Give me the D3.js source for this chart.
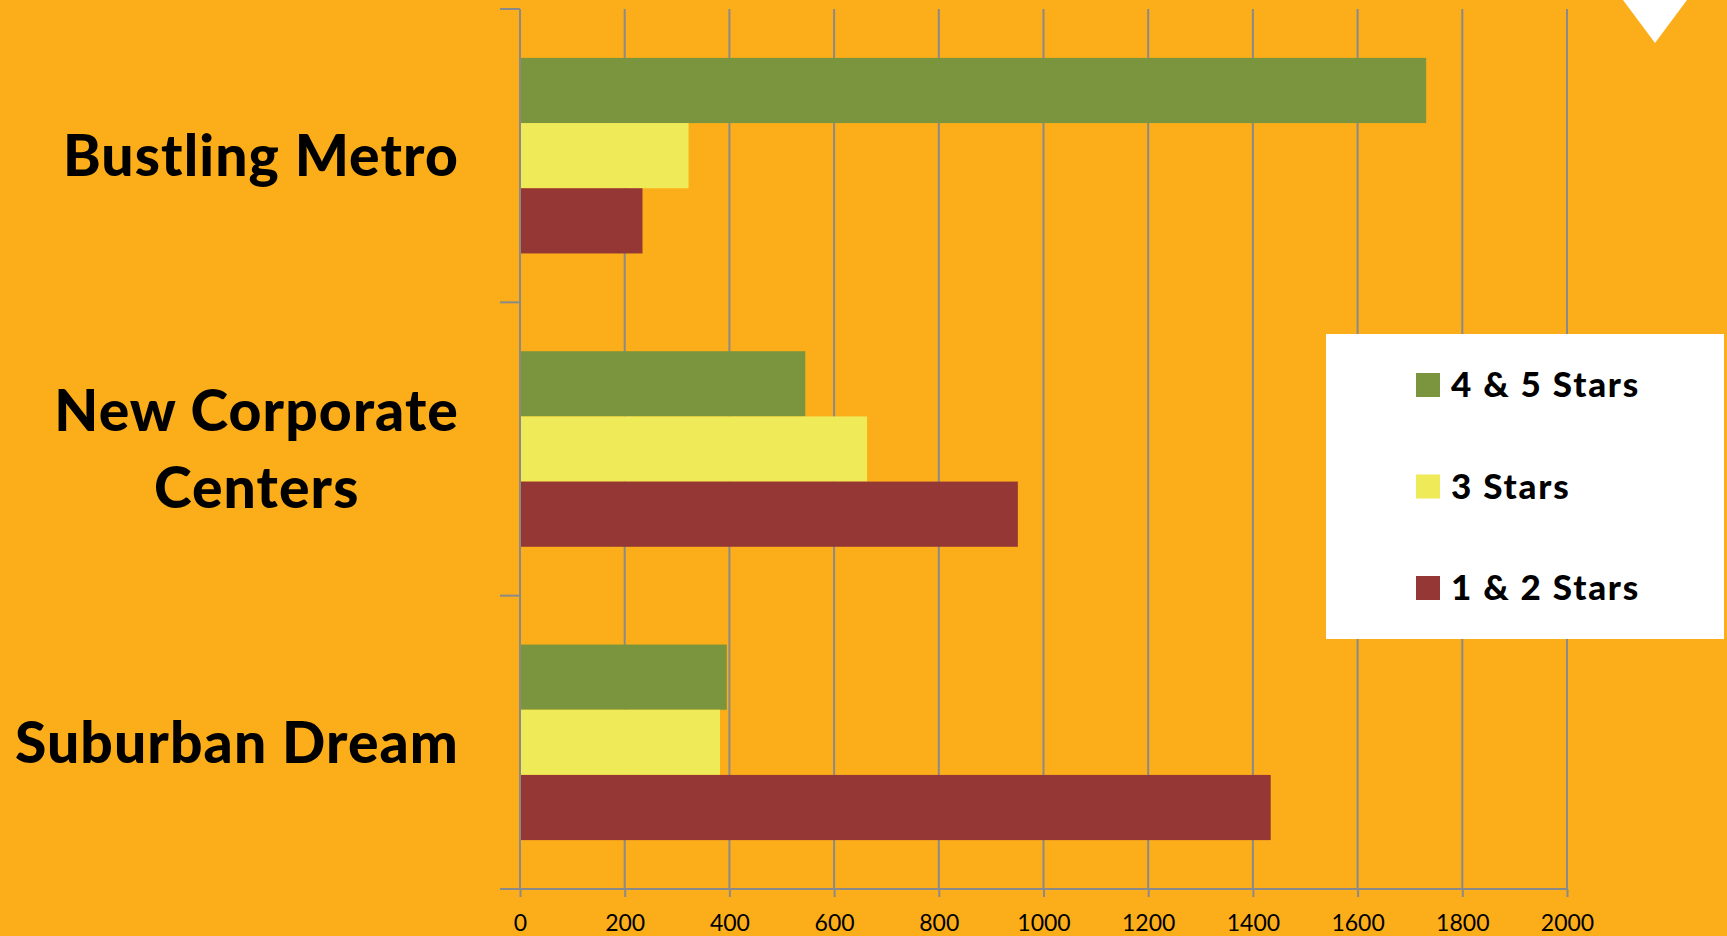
<!DOCTYPE html>
<html>
<head>
<meta charset="utf-8">
<script src="https://cdn.jsdelivr.net/npm/d3@7"></script>
<style>
  html, body { margin: 0; padding: 0; background: #FBAE19; overflow: hidden; }
  svg { display: block; }
</style>
</head>
<body>
<svg id="chart" width="1727" height="936"></svg>
<script>
// ---- data ----
const categories = ["Bustling Metro", "New Corporate Centers", "Suburban Dream"];
const categoryLines = [["Bustling Metro"], ["New Corporate", "Centers"], ["Suburban Dream"]];
const seriesNames = ["4 & 5 Stars", "3 Stars", "1 & 2 Stars"];
const seriesValues = [
  [1731, 545, 395],   // 4 & 5 Stars
  [322, 663, 382],    // 3 Stars
  [234, 951, 1434]    // 1 & 2 Stars
];
const tickValues = [0, 200, 400, 600, 800, 1000, 1200, 1400, 1600, 1800, 2000];
const seriesColors = ["#7A953D", "#EFEA57", "#953735"];

// ---- layout ----
const W = 1727, H = 936;
const plot = { left: 520, right: 1567, top: 9, bottom: 889 };
const gridColor = "#8A8A8A";

const svg = d3.select("#chart");
svg.append("rect").attr("width", W).attr("height", H).attr("fill", "#FBAE19");

const x = d3.scaleLinear().domain([0, 2000]).range([plot.left, plot.right]);
const y = d3.scaleBand().domain(categories).range([plot.top, plot.bottom]).padding(0);
const ySub = d3.scaleBand().domain(seriesNames).range([0, y.bandwidth()]).paddingInner(0).paddingOuter(0.75);

// gridlines
svg.append("g").selectAll("line")
  .data(tickValues.filter(v => v > 0))
  .join("line")
  .attr("x1", d => x(d)).attr("x2", d => x(d))
  .attr("y1", plot.top).attr("y2", plot.bottom)
  .attr("stroke", gridColor).attr("stroke-width", 2);

// bars
const rows = [];
categories.forEach((c, ci) => seriesNames.forEach((s, si) => rows.push({ c, s, si, v: seriesValues[si][ci] })));
svg.append("g").selectAll("rect")
  .data(rows)
  .join("rect")
  .attr("x", x(0) + 1)
  .attr("y", d => y(d.c) + ySub(d.s))
  .attr("width", d => x(d.v) - x(0) - 1)
  .attr("height", ySub.bandwidth())
  .attr("fill", d => seriesColors[d.si]);

// bottom axis
const xAxis = d3.axisBottom(x).tickValues(tickValues).tickSize(8).tickSizeOuter(0).tickFormat(d3.format("d"));
const gx = svg.append("g").attr("transform", `translate(0,${plot.bottom})`).call(xAxis);
gx.select(".domain").attr("stroke", gridColor).attr("stroke-width", 2)
  .attr("d", `M${plot.left - 20},0H${plot.right}`);
gx.selectAll(".tick line").attr("stroke", gridColor).attr("stroke-width", 2);
gx.selectAll(".tick text").attr("y", 42).attr("dy", null)
  .attr("fill", "#000").style("font-family", "Lato, 'Open Sans', sans-serif").style("font-size", "23px");

// left axis
const gy = svg.append("g");
gy.append("line")
  .attr("x1", plot.left).attr("x2", plot.left)
  .attr("y1", plot.top).attr("y2", plot.bottom)
  .attr("stroke", gridColor).attr("stroke-width", 2);
const boundaries = categories.map(c => y(c)).concat([y.range()[1]]);
gy.selectAll("line.b").data(boundaries).join("line").attr("class", "b")
  .attr("x1", plot.left - 20).attr("x2", plot.left)
  .attr("y1", d => d).attr("y2", d => d)
  .attr("stroke", gridColor).attr("stroke-width", 2);

// category labels
const labelFont = 57, labelLine = 77, capH = 0.7165 * labelFont, labelRight = 459;
categories.forEach((c, ci) => {
  const lines = categoryLines[ci];
  const g = svg.append("g");
  const texts = lines.map((ln, li) => g.append("text").text(ln)
    .style("font-family", "Lato, sans-serif").style("font-weight", "900")
    .style("letter-spacing", "1.1px")
    .style("font-size", labelFont + "px").attr("fill", "#000"));
  const widths = texts.map(t => t.node().getComputedTextLength());
  const maxW = d3.max(widths);
  const cy = y(c) + y.bandwidth() / 2;
  const firstBase = cy + capH / 2 - (lines.length - 1) * labelLine / 2;
  texts.forEach((t, li) => t.attr("text-anchor", "middle")
    .attr("x", labelRight - maxW / 2)
    .attr("y", firstBase + li * labelLine));
});

// legend
const lg = svg.append("g");
lg.append("rect").attr("x", 1326).attr("y", 334).attr("width", 398).attr("height", 305).attr("fill", "#fff");
const legendY = d3.scalePoint().domain(seriesNames).range([385, 588]);
const li = lg.selectAll("g.item").data(seriesNames).join("g").attr("class", "item")
  .attr("transform", d => `translate(1416,${legendY(d)})`);
li.append("rect").attr("x", 0).attr("y", -12).attr("width", 24).attr("height", 24)
  .attr("fill", (d, i) => seriesColors[i]);
li.append("text").attr("x", 35).attr("y", 12).text(d => d)
  .style("font-family", "Lato, sans-serif").style("font-weight", "900").style("font-size", "35px")
  .style("letter-spacing", "1.8px")
  .attr("fill", "#000");

// decorative triangle top-right
svg.append("path").attr("d", "M1623,0L1687,0L1655,43Z").attr("fill", "#fff");
</script>
</body>
</html>
